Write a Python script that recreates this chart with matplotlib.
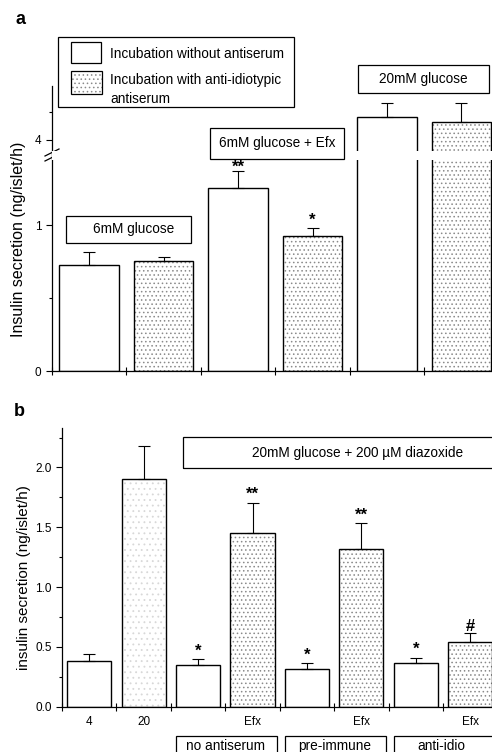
import matplotlib
import numpy as np

matplotlib.use("Agg")
import matplotlib.pyplot as plt  # noqa: E402
from matplotlib.patches import Rectangle  # noqa: E402

plt.rcParams["font.family"] = ["Liberation Sans", "DejaVu Sans"]
plt.rcParams["hatch.linewidth"] = 0.6

# panel a: 6mM, 6mM+Efx, 20mM glucose, each without / with anti-idiotypic antiserum
a_means = [0.73, 0.755, 1.26, 0.925, 4.41, 4.32]
a_errs = [0.085, 0.031, 0.11, 0.058, 0.25, 0.34]
a_dotted = [False, True, False, True, False, True]
a_marks = ["", "", "**", "*", "", ""]

# panel b: 4, 20, then 20mM + diazoxide (no antiserum / pre-immune / anti-idio, +/- Efx)
b_means = [0.385, 1.905, 0.35, 1.448, 0.318, 1.317, 0.363, 0.541]
b_errs = [0.055, 0.275, 0.047, 0.259, 0.045, 0.217, 0.047, 0.078]
b_fill = ["none", "sparse", "none", "dense", "none", "dense", "none", "dense"]
b_marks = ["", "", "*", "**", "*", "**", "*", "#"]
b_ticklabels = ["4", "20", "", "Efx", "", "Efx", "", "Efx"]
b_groups = ["no antiserum", "pre-immune", "anti-idio"]

W, H = 492, 752


def fx(x):
    return x / W


def fy(y):
    return 1 - y / H


def draw_bars(ax, means, errs, fills, width):
    x = np.arange(len(means))
    for xi, m, f in zip(x, means, fills):
        if f == "dense":
            ax.bar(xi, m, width, color="white", edgecolor="#8a8a8a", hatch="....", lw=0, zorder=1)
        elif f == "sparse":
            ax.bar(xi, m, width, color="white", edgecolor="#d8d8d8", hatch="...", lw=0, zorder=1)
    ax.bar(x, means, width, fill=False, edgecolor="black", lw=1.0, zorder=2)
    ax.errorbar(x, means, yerr=[np.zeros(len(errs)), errs], fmt="none", ecolor="black",
                elinewidth=0.8, capsize=4, capthick=0.8, zorder=3)


def mark_bars(ax, means, errs, marks, lift=None):
    lift = lift or {}
    for xi, (m, e, s) in enumerate(zip(means, errs, marks)):
        if s:
            ax.annotate(s, (xi, m + e), xytext=(0, lift.get(xi, 2.5)), textcoords="offset points",
                        ha="center", va="baseline", fontsize=12, fontweight="bold", zorder=6)


def label_box(fig, x0, y0, x1, y1, text, size=9.8, tx=None):
    fig.add_artist(Rectangle((fx(x0), fy(y1)), fx(x1 - x0), (y1 - y0) / H, transform=fig.transFigure,
                             fill=False, edgecolor="black", lw=0.9, clip_on=False))
    tx = (x0 + x1) / 2 if tx is None else tx
    fig.text(fx(tx), fy((y0 + y1) / 2), text, ha="center", va="center", fontsize=size)


fig = plt.figure(figsize=(W / 100, H / 100), dpi=100)

# ---- panel a: broken y axis via a piecewise-linear scale
xp = [-10, 0, 1.45, 3.8, 10]
fp = [-1450, 0, 210.25, 218.8, 218.8 + 6.2 * 56]
axa = fig.add_axes([fx(52), fy(371), fx(440), (371 - 86) / H])
axa.set_yscale("function", functions=(lambda v: np.interp(v, xp, fp), lambda p: np.interp(p, fp, xp)))
draw_bars(axa, a_means, a_errs, ["dense" if d else "none" for d in a_dotted], 0.8)
axa.axhspan(1.45, 3.8, color="white", zorder=4, lw=0)
axa.set_xlim(-0.5, 5.41)
axa.set_ylim(0, 4.96)
axa.set_yticks([0, 1, 4], ["0", "1", "4"])
axa.set_yticks([0.5, 4.5], minor=True)
axa.set_xticks(np.arange(6) - 0.5, [""] * 6)
mark_bars(axa, a_means, a_errs, a_marks, lift={2: -0.5})
fig.text(fx(19), fy(239), "Insulin secretion (ng/islet/h)", rotation=90, ha="center", va="center",
         fontsize=11.5)
# break marks on the spine
for dy in (0, 5):
    axa.plot([fx(45), fx(59)], [fy(161 - dy), fy(154 - dy)], transform=fig.transFigure,
             color="black", lw=0.9, clip_on=False)

# legend box
fig.add_artist(Rectangle((fx(58), fy(107)), fx(236), 70 / H, transform=fig.transFigure,
                         facecolor="white", edgecolor="black", lw=0.9, zorder=10))
fig.add_artist(Rectangle((fx(71), fy(63)), fx(30), 21 / H, transform=fig.transFigure,
                         facecolor="white", edgecolor="black", lw=0.9, zorder=11))
fig.add_artist(Rectangle((fx(71), fy(94)), fx(31), 23 / H, transform=fig.transFigure,
                         facecolor="white", edgecolor="#8a8a8a", hatch="....", lw=0, zorder=11))
fig.add_artist(Rectangle((fx(71), fy(94)), fx(31), 23 / H, transform=fig.transFigure,
                         fill=False, edgecolor="black", lw=0.9, zorder=12))
fig.text(fx(110), fy(54), "Incubation without antiserum", fontsize=9.8, va="center", zorder=12)
fig.text(fx(110), fy(80), "Incubation with anti-idiotypic", fontsize=9.8, va="center", zorder=12)
fig.text(fx(110), fy(99), "antiserum", fontsize=9.8, va="center", zorder=12)

label_box(fig, 66, 216, 191, 243, "6mM glucose", tx=134)
label_box(fig, 210, 128, 344, 159, "6mM glucose + Efx")
label_box(fig, 358, 65, 489, 93, "20mM glucose")
fig.text(fx(15), fy(20), "a", fontsize=13, fontweight="bold", va="center")

# ---- panel b
axb = fig.add_axes([fx(62), fy(706.7), fx(430), (706.7 - 428) / H])
draw_bars(axb, b_means, b_errs, b_fill, 0.81)
axb.set_xlim(-0.5, 7.4)
axb.set_ylim(0, 2.33)
axb.set_yticks(np.arange(0, 2.01, 0.5), [f"{v:.1f}" for v in np.arange(0, 2.01, 0.5)])
axb.set_yticks(np.arange(0.25, 2.3, 0.5), minor=True)
axb.set_xticks(np.arange(8) - 0.5, [""] * 8)
axb.set_xticks(np.arange(8), b_ticklabels, minor=True)
mark_bars(axb, b_means, b_errs, b_marks, lift={7: 1})
fig.text(fx(24), fy(578), "insulin secretion (ng/islet/h)", rotation=90, ha="center", va="center",
         fontsize=11)
label_box(fig, 183, 437, 500, 468, "20mM glucose + 200 \u00b5M diazoxide", tx=358)
for (x0, x1), tx, g in zip([(176, 277), (285, 386), (394, 500)], [226, 335, 441], b_groups):
    fig.add_artist(Rectangle((fx(x0), fy(760)), fx(x1 - x0), 24 / H, transform=fig.transFigure,
                             fill=False, edgecolor="black", lw=0.9, clip_on=False))
    fig.text(fx(tx), fy(750), g, ha="center", va="baseline", fontsize=9.8)
fig.text(fx(14), fy(411), "b", fontsize=13, fontweight="bold", va="center")

for ax in (axa, axb):
    ax.spines[["top", "right"]].set_visible(False)
    ax.spines[["left", "bottom"]].set_linewidth(0.9)
    ax.tick_params(axis="y", which="major", direction="out", length=4, width=0.8, labelsize=8.5)
    ax.tick_params(axis="y", which="minor", direction="out", length=2.5, width=0.8)
    ax.tick_params(axis="x", which="major", direction="inout", length=6, width=0.8)
axb.tick_params(axis="x", which="minor", length=0, labelsize=8.5, pad=7)

fig.savefig("out.png", dpi=100, facecolor="white")
